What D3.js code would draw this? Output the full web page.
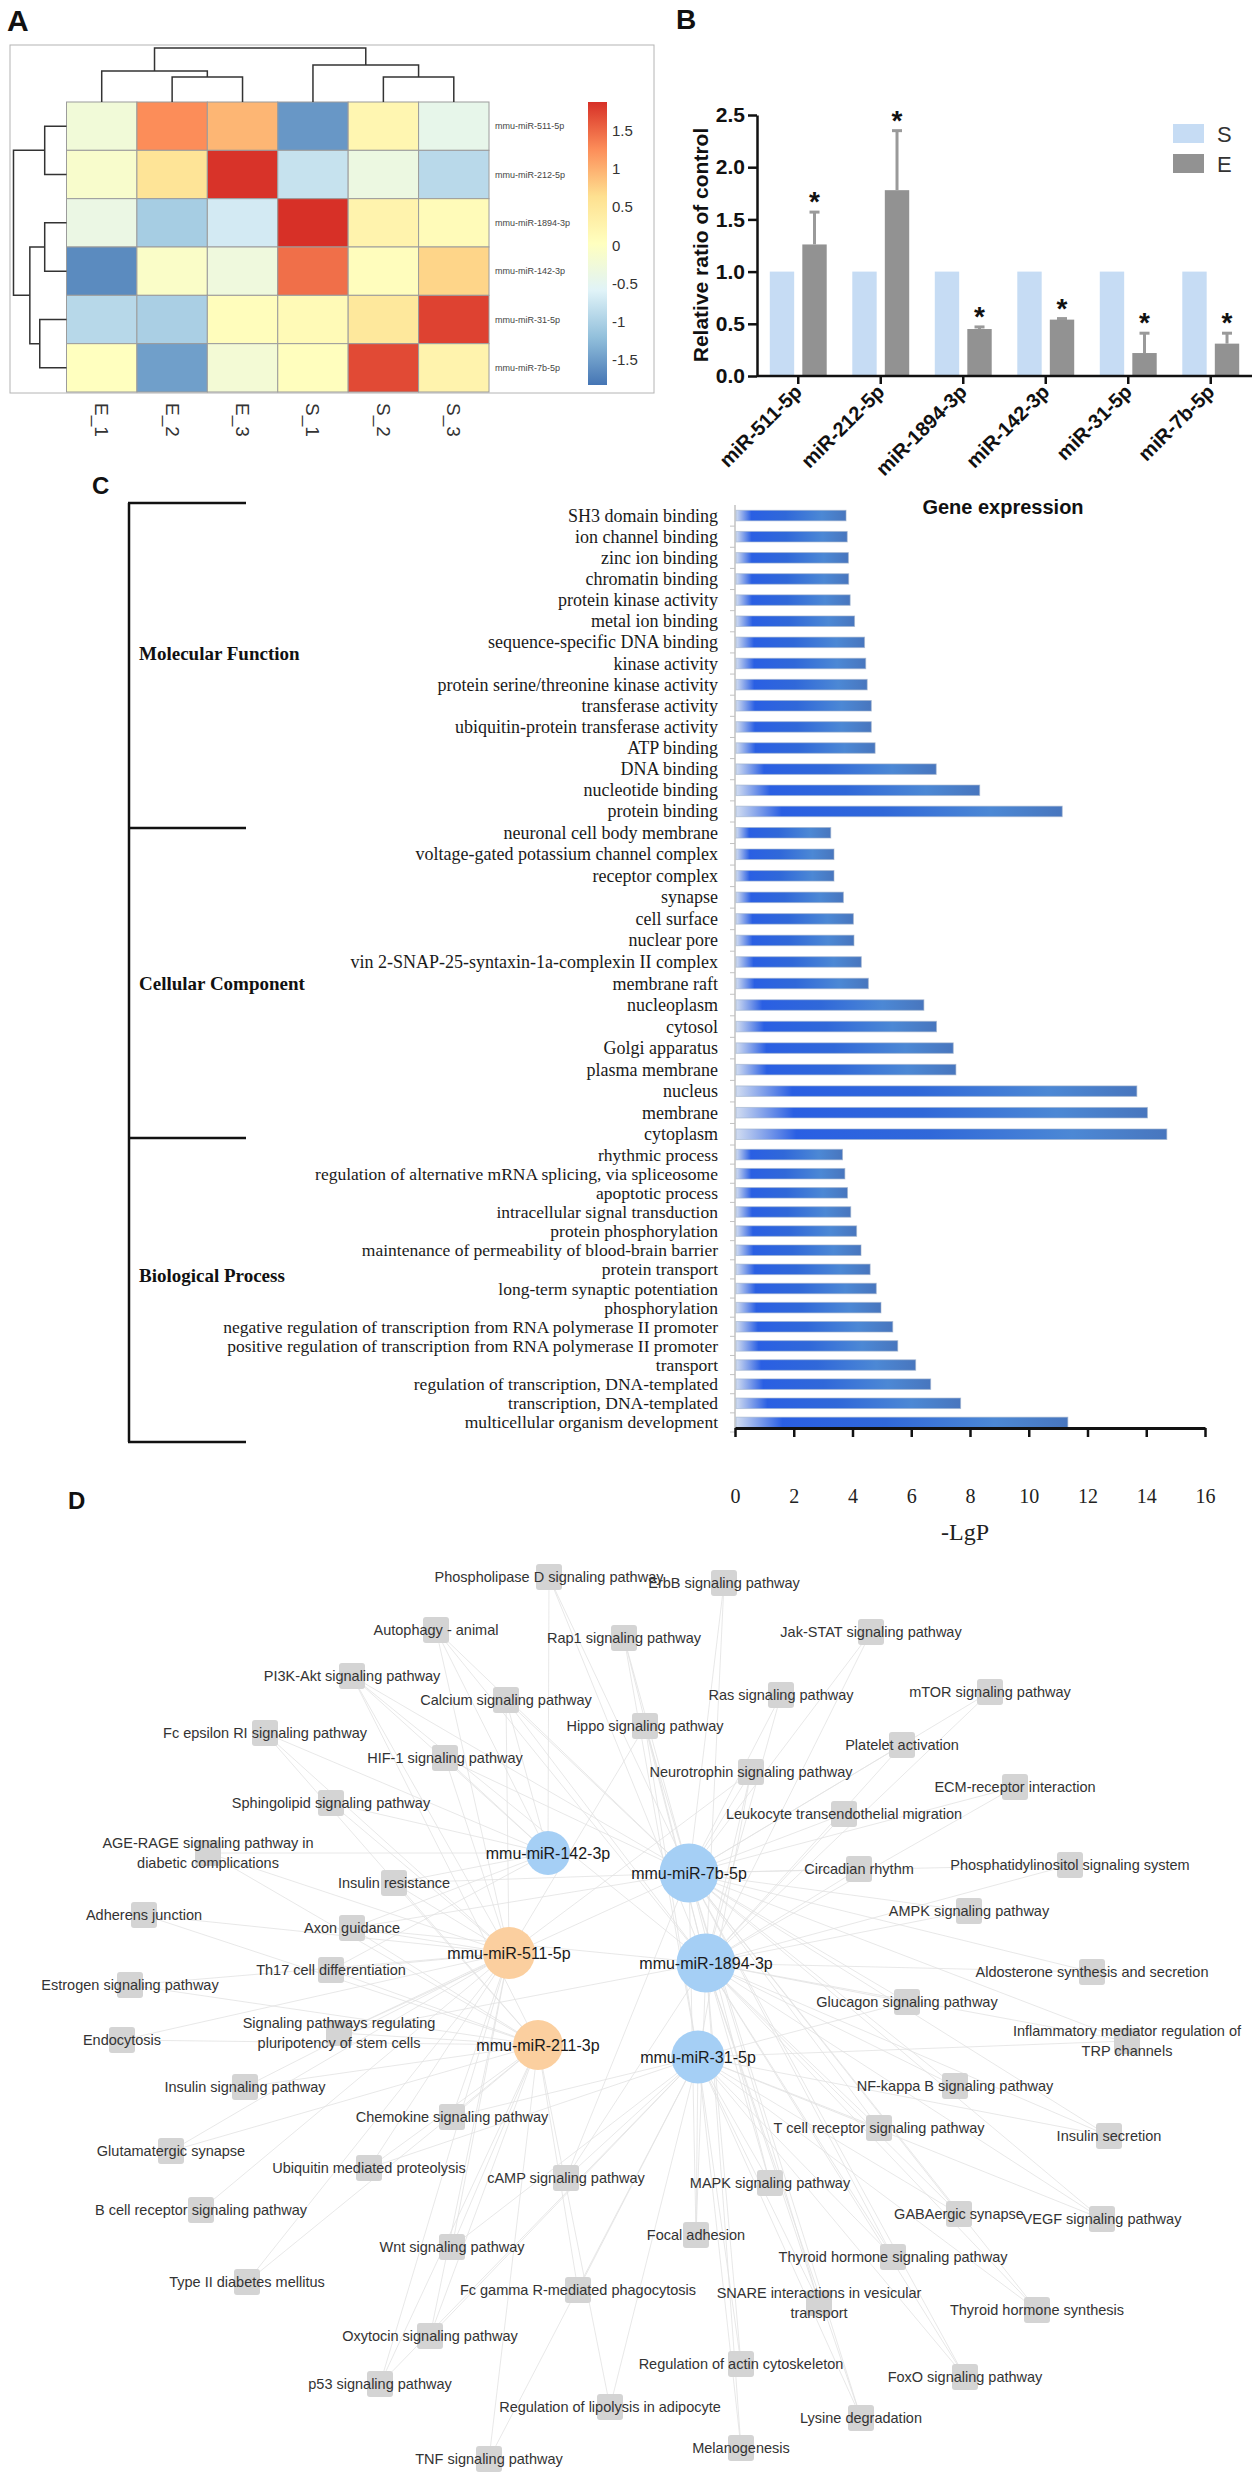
<!DOCTYPE html>
<html lang='en'>

<head>
    <meta charset='utf-8'>
    <title>miRNA figure</title>
    <style>
        body {
            margin: 0;
            background: #fff;
        }

        svg {
            display: block;
        }
    </style>
    <script src='https://cdn.jsdelivr.net/npm/d3@7'></script>
</head>

<body>
    <script type="text/javascript">
        const WIDTH = 1258;
        const HEIGHT = 2485;
        const SANS = "'Liberation Sans', Arial, sans-serif";
        const SERIF = "'Liberation Serif', 'Times New Roman', serif";

        // ---------- A: heatmap ----------
        const heatCols = ['E_1', 'E_2', 'E_3', 'S_1', 'S_2', 'S_3'];
        const heatRows = ['mmu-miR-511-5p', 'mmu-miR-212-5p', 'mmu-miR-1894-3p', 'mmu-miR-142-3p', 'mmu-miR-31-5p', 'mmu-miR-7b-5p'];
        const heatValues = [
            [-0.25, 1.25, 0.95, -1.55, 0.20, -0.45],
            [-0.12, 0.55, 1.85, -0.80, -0.35, -0.90],
            [-0.38, -1.05, -0.70, 1.87, 0.25, 0.10],
            [-1.65, -0.08, -0.30, 1.45, 0.05, 0.72],
            [-0.92, -1.02, 0.06, 0.12, 0.48, 1.75],
            [0.02, -1.48, -0.22, 0.03, 1.70, 0.25]
        ];
        const colorLimits = [-1.83, 1.87];
        const colorTicks = [-1.5, -1, -0.5, 0, 0.5, 1, 1.5];
        // merges: string = leaf, number = earlier merge, last = height
        const colMerges = [['E_2', 'E_3', 2.5], ['E_1', 0, 3.1], ['S_2', 'S_3', 2.5], ['S_1', 2, 3.7], [1, 3, 5.4]];
        const rowMerges = [['mmu-miR-511-5p', 'mmu-miR-212-5p', 2.2], ['mmu-miR-1894-3p', 'mmu-miR-142-3p', 2.2],
            ['mmu-miR-31-5p', 'mmu-miR-7b-5p', 2.7], [1, 2, 3.7], [0, 3, 5.35]];

        // ---------- B: qPCR bars ----------
        const qpcrGenes = ['miR-511-5p', 'miR-212-5p', 'miR-1894-3p', 'miR-142-3p', 'miR-31-5p', 'miR-7b-5p'];
        const qpcrGroups = ['S', 'E'];
        const valuesS = [1, 1, 1, 1, 1, 1];
        const valuesE = [1.26, 1.78, 0.45, 0.54, 0.22, 0.31];
        const errorsE = [0.31, 0.57, 0.02, 0.01, 0.19, 0.10];
        const qpcrTicks = [0, 0.5, 1, 1.5, 2, 2.5];

        // ---------- C: GO terms ----------
        const mfTerms = ['SH3 domain binding', 'ion channel binding', 'zinc ion binding', 'chromatin binding',
            'protein kinase activity', 'metal ion binding', 'sequence-specific DNA binding', 'kinase activity',
            'protein serine/threonine kinase activity', 'transferase activity', 'ubiquitin-protein transferase activity',
            'ATP binding', 'DNA binding', 'nucleotide binding', 'protein binding'];
        const mfValues = [3.78, 3.82, 3.86, 3.87, 3.92, 4.07, 4.41, 4.45, 4.50, 4.64, 4.64, 4.77, 6.85, 8.33, 11.14];
        const ccTerms = ['neuronal cell body membrane', 'voltage-gated potassium channel complex', 'receptor complex',
            'synapse', 'cell surface', 'nuclear pore', 'vin 2-SNAP-25-syntaxin-1a-complexin II complex', 'membrane raft',
            'nucleoplasm', 'cytosol', 'Golgi apparatus', 'plasma membrane', 'nucleus', 'membrane', 'cytoplasm'];
        const ccValues = [3.26, 3.37, 3.37, 3.69, 4.03, 4.05, 4.30, 4.54, 6.43, 6.86, 7.43, 7.52, 13.68, 14.04, 14.70];
        const bpTerms = ['rhythmic process', 'regulation of alternative mRNA splicing, via spliceosome', 'apoptotic process',
            'intracellular signal transduction', 'protein phosphorylation',
            'maintenance of permeability of blood-brain barrier', 'protein transport', 'long-term synaptic potentiation',
            'phosphorylation', 'negative regulation of transcription from RNA polymerase II promoter',
            'positive regulation of transcription from RNA polymerase II promoter', 'transport',
            'regulation of transcription, DNA-templated', 'transcription, DNA-templated', 'multicellular organism development'];
        const bpValues = [3.66, 3.74, 3.83, 3.94, 4.14, 4.29, 4.60, 4.81, 4.97, 5.37, 5.54, 6.15, 6.66, 7.68, 11.33];
        const goGroups = ['Molecular Function', 'Cellular Component', 'Biological Process'];
        const lgpTicks = [0, 2, 4, 6, 8, 10, 12, 14, 16];

        // ---------- D: miRNA-pathway network ----------
        const mirKeys = ['a', 'd', 'b', 'e', 'c', 'f'];
        const mirNames = ['mmu-miR-142-3p', 'mmu-miR-7b-5p', 'mmu-miR-511-5p', 'mmu-miR-1894-3p', 'mmu-miR-211-3p', 'mmu-miR-31-5p'];
        const mirRegulation = ['down', 'down', 'up', 'down', 'up', 'down'];
        const mirLayout = [[548, 303], [689, 323], [509, 403], [706, 413], [538, 495], [698, 507]];
        const pathwayNames = ['Phospholipase D signaling pathway', 'ErbB signaling pathway', 'Autophagy - animal',
            'Rap1 signaling pathway', 'Jak-STAT signaling pathway', 'PI3K-Akt signaling pathway', 'Calcium signaling pathway',
            'Hippo signaling pathway', 'Ras signaling pathway', 'mTOR signaling pathway', 'Fc epsilon RI signaling pathway',
            'HIF-1 signaling pathway', 'Platelet activation', 'Neurotrophin signaling pathway', 'ECM-receptor interaction',
            'Sphingolipid signaling pathway', 'Leukocyte transendothelial migration',
            'AGE-RAGE signaling pathway in\ndiabetic complications', 'Insulin resistance', 'Circadian rhythm',
            'Phosphatidylinositol signaling system', 'Adherens junction', 'Axon guidance', 'AMPK signaling pathway',
            'Th17 cell differentiation', 'Estrogen signaling pathway', 'Aldosterone synthesis and secretion',
            'Glucagon signaling pathway', 'Endocytosis', 'Signaling pathways regulating\npluripotency of stem cells',
            'Inflammatory mediator regulation of\nTRP channels', 'Insulin signaling pathway', 'NF-kappa B signaling pathway',
            'Chemokine signaling pathway', 'T cell receptor signaling pathway', 'Insulin secretion', 'Glutamatergic synapse',
            'Ubiquitin mediated proteolysis', 'cAMP signaling pathway', 'MAPK signaling pathway',
            'B cell receptor signaling pathway', 'GABAergic synapse', 'VEGF signaling pathway', 'Focal adhesion',
            'Wnt signaling pathway', 'Thyroid hormone signaling pathway', 'Type II diabetes mellitus',
            'Fc gamma R-mediated phagocytosis', 'SNARE interactions in vesicular\ntransport', 'Thyroid hormone synthesis',
            'Oxytocin signaling pathway', 'Regulation of actin cytoskeleton', 'FoxO signaling pathway', 'p53 signaling pathway',
            'Regulation of lipolysis in adipocyte', 'Lysine degradation', 'Melanogenesis', 'TNF signaling pathway'];
        const pathwayLayout = [[549, 27], [724, 33], [436, 80], [624, 88], [871, 82], [352, 126], [506, 150], [645, 176],
            [781, 145], [990, 142], [265, 183], [445, 208], [902, 195], [751, 222], [1015, 237], [331, 253], [844, 264],
            [208, 303], [394, 333], [859, 319], [1070, 315], [144, 365], [352, 378], [969, 361], [331, 420], [130, 435],
            [1092, 422], [907, 452], [122, 490], [339, 483], [1127, 491], [245, 537], [955, 536], [452, 567], [879, 578],
            [1109, 586], [171, 601], [369, 618], [566, 628], [770, 633], [201, 660], [959, 664], [1102, 669], [696, 685],
            [452, 697], [893, 707], [247, 732], [578, 740], [819, 753], [1037, 760], [430, 786], [741, 814], [965, 827],
            [380, 834], [610, 857], [861, 868], [741, 898], [489, 909]];
        const pathwayLinks = ['ade', 'de', 'abde', 'def', 'de', 'abcde', 'abde', 'bdef', 'de', 'de', 'abc', 'abd', 'de',
            'bdef', 'de', 'ab', 'de', 'abc', 'abcd', 'de', 'de', 'bc', 'abcde', 'de', 'abc', 'bc', 'de', 'def', 'bc', 'bcde',
            'def', 'bc', 'de', 'bcf', 'def', 'def', 'bc', 'bcf', 'def', 'def', 'b', 'def', 'def', 'def', 'bcf', 'def', 'bc',
            'cf', 'def', 'def', 'bcf', 'ef', 'def', 'bcf', 'cf', 'def', 'ef', 'cf'];

        const svg = d3.select('body')
            .append('svg')
            .attr('width', WIDTH)
            .attr('height', HEIGHT)
            .style('background', '#fff');

        function panelLetter(t, x, y, size) {
            svg.append('text').text(t).attr('x', x).attr('y', y)
                .attr('font-family', SANS).attr('font-weight', 'bold').attr('font-size', size).attr('fill', '#111');
        }

        // ================= Panel A =================
        panelLetter('A', 7, 31, 30);
        const gA = svg.append('g');
        gA.append('rect').attr('x', 10).attr('y', 45).attr('width', 644).attr('height', 348)
            .attr('fill', 'none').attr('stroke', '#b4b4b4').attr('stroke-width', 1);

        const hx = d3.scaleBand().domain(heatCols).range([66.5, 489]);
        const hy = d3.scaleBand().domain(heatRows).range([102, 392]);
        const palette = ['#4575b4', '#91bfdb', '#e0f3f8', '#ffffbf', '#fee090', '#fc8d59', '#d73027'];
        const heatColor = d3.scaleLinear()
            .domain(palette.map(function (c, i) { return colorLimits[0] + i * (colorLimits[1] - colorLimits[0]) / (palette.length - 1); }))
            .range(palette);

        const cells = [];
        heatRows.forEach(function (r, i) {
            heatCols.forEach(function (c, j) { cells.push({ row: r, col: c, v: heatValues[i][j] }); });
        });
        gA.selectAll('rect.cell')
            .data(cells)
            .enter()
            .append('rect')
            .attr('class', 'cell')
            .attr('x', function (d) { return hx(d.col); })
            .attr('y', function (d) { return hy(d.row); })
            .attr('width', hx.bandwidth())
            .attr('height', hy.bandwidth())
            .attr('fill', function (d) { return heatColor(d.v); })
            .attr('stroke', '#9c9c9c')
            .attr('stroke-width', 1);

        function dendro(merges, leafPos, hScale, vertical) {
            const nodes = [];
            const paths = [];
            merges.forEach(function (m) {
                const kids = [m[0], m[1]].map(function (k) {
                    return typeof k === 'string' ? { p: leafPos(k), h: 0 } : nodes[k];
                });
                const a = kids[0], b = kids[1], h = m[2];
                if (vertical) {
                    paths.push('M' + a.p + ',' + hScale(a.h) + 'V' + hScale(h) + 'H' + b.p + 'V' + hScale(b.h));
                } else {
                    paths.push('M' + hScale(a.h) + ',' + a.p + 'H' + hScale(h) + 'V' + b.p + 'H' + hScale(b.h));
                }
                nodes.push({ p: (a.p + b.p) / 2, h: h });
            });
            return paths;
        }
        const colH = d3.scaleLinear().domain([0, 5.4]).range([102, 48]);
        const rowH = d3.scaleLinear().domain([0, 5.4]).range([66.5, 13]);
        gA.selectAll('path.cden')
            .data(dendro(colMerges, function (k) { return hx(k) + hx.bandwidth() / 2; }, colH, true))
            .enter().append('path').attr('d', function (d) { return d; })
            .attr('fill', 'none').attr('stroke', '#333').attr('stroke-width', 1.5);
        gA.selectAll('path.rden')
            .data(dendro(rowMerges, function (k) { return hy(k) + hy.bandwidth() / 2; }, rowH, false))
            .enter().append('path').attr('d', function (d) { return d; })
            .attr('fill', 'none').attr('stroke', '#333').attr('stroke-width', 1.5);

        gA.selectAll('text.rlab')
            .data(heatRows)
            .enter().append('text')
            .text(function (d) { return d; })
            .attr('x', 495)
            .attr('y', function (d) { return hy(d) + hy.bandwidth() / 2; })
            .attr('dominant-baseline', 'central')
            .attr('font-family', SANS).attr('font-size', 9).attr('fill', '#444');

        gA.selectAll('text.clab')
            .data(heatCols)
            .enter().append('text')
            .text(function (d) { return d; })
            .attr('transform', function (d) { return 'translate(' + (hx(d) + hx.bandwidth() / 2) + ',403) rotate(90)'; })
            .attr('dominant-baseline', 'central')
            .attr('font-family', SANS).attr('font-size', 19).attr('fill', '#333');

        // colour key
        const keyY = d3.scaleLinear().domain(colorLimits).range([385, 102]);
        const defs = svg.append('defs');
        const keyGrad = defs.append('linearGradient').attr('id', 'keyGrad')
            .attr('x1', 0).attr('y1', 1).attr('x2', 0).attr('y2', 0);
        keyGrad.selectAll('stop')
            .data(palette)
            .enter().append('stop')
            .attr('offset', function (d, i) { return i / (palette.length - 1); })
            .attr('stop-color', function (d) { return d; });
        gA.append('rect').attr('x', 588).attr('y', keyY(colorLimits[1])).attr('width', 19)
            .attr('height', keyY(colorLimits[0]) - keyY(colorLimits[1])).attr('fill', 'url(#keyGrad)');
        gA.selectAll('text.key')
            .data(colorTicks)
            .enter().append('text')
            .text(function (d) { return d; })
            .attr('x', 612)
            .attr('y', function (d) { return keyY(d); })
            .attr('dominant-baseline', 'central')
            .attr('font-family', SANS).attr('font-size', 15).attr('fill', '#333');

        // ================= Panel B =================
        panelLetter('B', 676, 29, 28);
        const gB = svg.append('g');
        const bx0 = d3.scaleBand().domain(qpcrGenes).range([757, 1252]).paddingInner(0.31).paddingOuter(0.155);
        const bx1 = d3.scaleBand().domain(qpcrGroups).range([0, bx0.bandwidth()]).paddingInner(0.25);
        const by = d3.scaleLinear().domain([0, 2.5]).range([376, 115]);
        const barColor = { S: '#c6dcf4', E: '#929292' };

        const qRows = qpcrGenes.map(function (g, i) {
            return { gene: g, S: valuesS[i], E: valuesE[i], err: errorsE[i] };
        });
        const grp = gB.selectAll('g.grp')
            .data(qRows)
            .enter().append('g')
            .attr('transform', function (d) { return 'translate(' + bx0(d.gene) + ',0)'; });
        grp.selectAll('rect')
            .data(function (d) { return qpcrGroups.map(function (k) { return { key: k, v: d[k] }; }); })
            .enter().append('rect')
            .attr('x', function (d) { return bx1(d.key); })
            .attr('y', function (d) { return by(d.v); })
            .attr('width', bx1.bandwidth())
            .attr('height', function (d) { return by(0) - by(d.v); })
            .attr('fill', function (d) { return barColor[d.key]; });
        const ecx = bx1('E') + bx1.bandwidth() / 2;
        grp.append('line')
            .attr('x1', ecx).attr('x2', ecx)
            .attr('y1', function (d) { return by(d.E); })
            .attr('y2', function (d) { return by(d.E + d.err); })
            .attr('stroke', '#9a9a9a').attr('stroke-width', 3);
        grp.append('line')
            .attr('x1', ecx - 5).attr('x2', ecx + 5)
            .attr('y1', function (d) { return by(d.E + d.err); })
            .attr('y2', function (d) { return by(d.E + d.err); })
            .attr('stroke', '#9a9a9a').attr('stroke-width', 3);
        grp.append('text')
            .text('*')
            .attr('x', ecx)
            .attr('y', function (d) { return by(d.E + d.err) - 1; })
            .attr('text-anchor', 'middle')
            .attr('font-family', SANS).attr('font-weight', 'bold').attr('font-size', 28).attr('fill', '#111');

        const yAxisB = gB.append('g').attr('transform', 'translate(757,0)')
            .call(d3.axisLeft(by).tickValues(qpcrTicks).tickFormat(d3.format('.1f')).tickSize(9).tickSizeOuter(0).tickPadding(3));
        const xAxisB = gB.append('g').attr('transform', 'translate(0,376)')
            .call(d3.axisBottom(bx0).tickSize(8).tickSizeOuter(0).tickFormat(''));
        [yAxisB, xAxisB].forEach(function (a) {
            a.select('.domain').attr('stroke', '#111').attr('stroke-width', 2.5);
            a.selectAll('.tick line').attr('stroke', '#111').attr('stroke-width', 2.5);
            a.selectAll('text').attr('font-family', SANS).attr('font-weight', 'bold').attr('font-size', 21).attr('fill', '#111');
        });
        xAxisB.select('.domain').attr('d', 'M757,0H1252');
        gB.selectAll('text.xlab')
            .data(qpcrGenes)
            .enter().append('text')
            .text(function (d) { return d; })
            .attr('transform', function (d) { return 'translate(' + (bx0(d) + bx0.bandwidth() / 2 + 5) + ',393) rotate(-45)'; })
            .attr('text-anchor', 'end')
            .attr('font-family', SANS).attr('font-weight', 'bold').attr('font-size', 20).attr('fill', '#111');
        gB.append('text')
            .text('Relative ratio of control')
            .attr('transform', 'translate(708,245) rotate(-90)')
            .attr('text-anchor', 'middle')
            .attr('font-family', SANS).attr('font-weight', 'bold').attr('font-size', 21).attr('fill', '#111');
        const leg = gB.selectAll('g.leg')
            .data(qpcrGroups)
            .enter().append('g')
            .attr('transform', function (d, i) { return 'translate(1173,' + (124 + i * 30) + ')'; });
        leg.append('rect').attr('width', 31).attr('height', 19).attr('fill', function (d) { return barColor[d]; });
        leg.append('text').text(function (d) { return d; })
            .attr('x', 44).attr('y', 10).attr('dominant-baseline', 'central')
            .attr('font-family', SANS).attr('font-size', 22).attr('fill', '#333');

        // ================= Panel C =================
        panelLetter('C', 92, 494, 24);
        const gC = svg.append('g');
        const cx = d3.scaleLinear().domain([0, 16]).range([735, 1205]);
        const goSets = [
            { name: goGroups[0], terms: mfTerms, values: mfValues, band: [505, 822], size: 18, labelY: 653 },
            { name: goGroups[1], terms: ccTerms, values: ccValues, band: [822, 1145], size: 18, labelY: 983 },
            { name: goGroups[2], terms: bpTerms, values: bpValues, band: [1145, 1432], size: 17.5, labelY: 1275 }
        ];
        const barGrad = defs.append('linearGradient').attr('id', 'barGrad')
            .attr('x1', 0).attr('y1', 0).attr('x2', 1).attr('y2', 0);
        [[0, '#d2ddf1'], [0.14, '#2a5fe3'], [0.45, '#3068d9'], [0.78, '#4c88d5'], [1, '#4876be']].forEach(function (s) {
            barGrad.append('stop').attr('offset', s[0]).attr('stop-color', s[1]);
        });

        // bracket on the left
        const bracketY = [503, 828, 1138, 1442];
        gC.append('line').attr('x1', 129).attr('x2', 129).attr('y1', bracketY[0]).attr('y2', bracketY[3])
            .attr('stroke', '#111').attr('stroke-width', 2.5);
        gC.selectAll('line.br')
            .data(bracketY)
            .enter().append('line')
            .attr('x1', 128).attr('x2', 246)
            .attr('y1', function (d) { return d; }).attr('y2', function (d) { return d; })
            .attr('stroke', '#111').attr('stroke-width', 2.5);

        gC.append('line').attr('x1', 735).attr('x2', 735).attr('y1', 505).attr('y2', 1428)
            .attr('stroke', '#c2c2c2').attr('stroke-width', 1.5);

        goSets.forEach(function (set) {
            const yb = d3.scaleBand().domain(set.terms).range(set.band);
            const rows = set.terms.map(function (t, i) { return { term: t, v: set.values[i] }; });
            const bh = 10.5;
            gC.selectAll(null)
                .data(rows)
                .enter().append('line')
                .attr('x1', 730).attr('x2', 735)
                .attr('y1', function (d) { return yb(d.term) + yb.bandwidth(); })
                .attr('y2', function (d) { return yb(d.term) + yb.bandwidth(); })
                .attr('stroke', '#c2c2c2').attr('stroke-width', 1);
            gC.selectAll(null)
                .data(rows)
                .enter().append('rect')
                .attr('x', cx(0) + 1)
                .attr('y', function (d) { return yb(d.term) + (yb.bandwidth() - bh) / 2; })
                .attr('width', function (d) { return cx(d.v) - cx(0) - 1; })
                .attr('height', bh)
                .attr('fill', 'url(#barGrad)')
                .attr('stroke', '#9fb0cc').attr('stroke-opacity', 0.6).attr('stroke-width', 1);
            gC.selectAll(null)
                .data(rows)
                .enter().append('text')
                .text(function (d) { return d.term; })
                .attr('x', 718)
                .attr('y', function (d) { return yb(d.term) + yb.bandwidth() / 2; })
                .attr('text-anchor', 'end')
                .attr('dominant-baseline', 'central')
                .attr('font-family', SERIF).attr('font-size', set.size).attr('fill', '#1a1a1a');
            gC.append('text')
                .text(set.name)
                .attr('x', 139).attr('y', set.labelY)
                .attr('dominant-baseline', 'central')
                .attr('font-family', SERIF).attr('font-weight', 'bold').attr('font-size', 19).attr('fill', '#111');
        });

        const xAxisC = gC.append('g').attr('transform', 'translate(0,1428)')
            .call(d3.axisBottom(cx).tickValues(lgpTicks).tickSize(9).tickSizeOuter(0).tickPadding(52));
        xAxisC.select('.domain').attr('stroke', '#111').attr('stroke-width', 3);
        xAxisC.selectAll('.tick line').attr('stroke', '#111').attr('stroke-width', 2.5);
        xAxisC.selectAll('text').attr('font-family', SERIF).attr('font-size', 20).attr('fill', '#222');
        gC.append('text').text('-LgP').attr('x', 965).attr('y', 1540).attr('text-anchor', 'middle')
            .attr('font-family', SERIF).attr('font-size', 24).attr('fill', '#222');
        gC.append('text').text('Gene expression').attr('x', 1003).attr('y', 514).attr('text-anchor', 'middle')
            .attr('font-family', SANS).attr('font-weight', 'bold').attr('font-size', 20).attr('fill', '#111');

        // ================= Panel D =================
        panelLetter('D', 68, 1509, 24);
        const gD = svg.append('g');
        const nx = d3.scaleLinear().domain([0, WIDTH]).range([0, WIDTH]);
        const ny = d3.scaleLinear().domain([0, 935]).range([1550, 2485]);

        const mirs = mirNames.map(function (n, i) {
            return { key: mirKeys[i], name: n, reg: mirRegulation[i], x: mirLayout[i][0], y: mirLayout[i][1], deg: 0 };
        });
        const mirByKey = {};
        mirs.forEach(function (m) { mirByKey[m.key] = m; });
        const pathways = pathwayNames.map(function (n, i) {
            return { name: n, x: pathwayLayout[i][0], y: pathwayLayout[i][1], links: pathwayLinks[i] };
        });
        const edges = [];
        pathways.forEach(function (p) {
            p.links.split('').forEach(function (k) {
                edges.push({ s: mirByKey[k], t: p });
                mirByKey[k].deg += 1;
            });
        });
        const radius = d3.scaleLinear().domain(d3.extent(mirs, function (m) { return m.deg; })).range([22, 29.5]);

        gD.selectAll('line.edge')
            .data(edges)
            .enter().append('line')
            .attr('x1', function (d) { return nx(d.s.x); })
            .attr('y1', function (d) { return ny(d.s.y); })
            .attr('x2', function (d) { return nx(d.t.x); })
            .attr('y2', function (d) { return ny(d.t.y); })
            .attr('stroke', '#e2e2e2').attr('stroke-width', 0.8);

        gD.selectAll('rect.pw')
            .data(pathways)
            .enter().append('rect')
            .attr('x', function (d) { return nx(d.x) - 13; })
            .attr('y', function (d) { return ny(d.y) - 13; })
            .attr('width', 26).attr('height', 26).attr('rx', 3)
            .attr('fill', '#d4d4d4');

        gD.selectAll('circle.mir')
            .data(mirs)
            .enter().append('circle')
            .attr('cx', function (d) { return nx(d.x); })
            .attr('cy', function (d) { return ny(d.y); })
            .attr('r', function (d) { return radius(d.deg); })
            .attr('fill', function (d) { return d.reg === 'up' ? '#fbcf9f' : '#a5cff5'; });

        const pwLab = gD.selectAll('text.pw')
            .data(pathways)
            .enter().append('text')
            .attr('x', function (d) { return nx(d.x); })
            .attr('y', function (d) { return ny(d.y); })
            .attr('text-anchor', 'middle')
            .attr('font-family', SANS).attr('font-size', 14.5).attr('fill', '#333');
        pwLab.selectAll('tspan')
            .data(function (d) {
                const lines = d.name.split('\n');
                return lines.map(function (l, i) { return { text: l, dy: (i - (lines.length - 1) / 2) * 20 }; });
            })
            .enter().append('tspan')
            .attr('x', function () { return this.parentNode.getAttribute('x'); })
            .attr('y', function (d) { return +this.parentNode.getAttribute('y') + d.dy; })
            .attr('dominant-baseline', 'central')
            .text(function (d) { return d.text; });

        gD.selectAll('text.mir')
            .data(mirs)
            .enter().append('text')
            .text(function (d) { return d.name; })
            .attr('x', function (d) { return nx(d.x); })
            .attr('y', function (d) { return ny(d.y); })
            .attr('text-anchor', 'middle')
            .attr('dominant-baseline', 'central')
            .attr('font-family', SANS).attr('font-size', 16).attr('fill', '#1a1a1a');
    </script>
</body>

</html>
